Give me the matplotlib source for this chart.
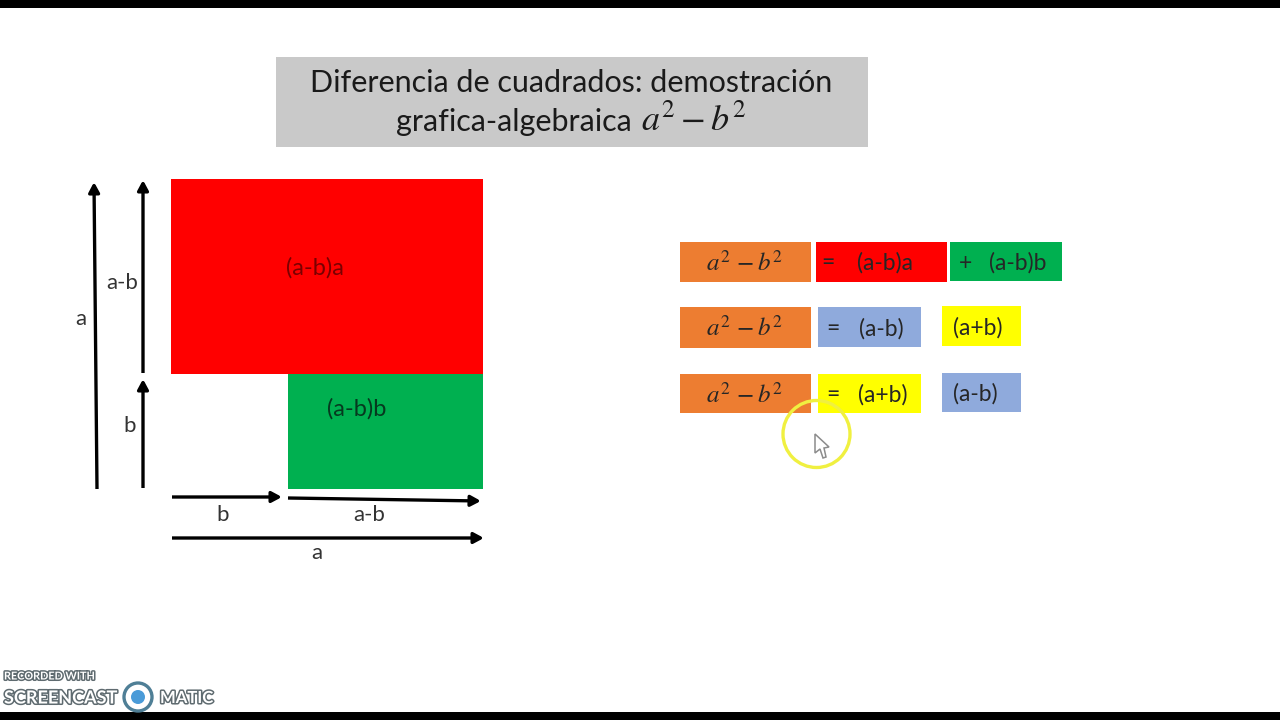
"""Diferencia de cuadrados - slide recreated in matplotlib (pixel coordinates)."""
import matplotlib
matplotlib.use('Agg')
import matplotlib.pyplot as plt
import matplotlib.patches as mpatches
import matplotlib.patheffects as pe

plt.rcParams['font.family'] = ['Lato', 'DejaVu Sans']
plt.rcParams['mathtext.fontset'] = 'stix'

ORANGE = '#ED7D31'
RED = '#FF0000'
GREEN = '#00B050'
BLUE = '#8FAADC'
YELLOW = '#FFFF00'
TEXT = '#262626'

TITLE_LINE1 = 'Diferencia de cuadrados: demostración'
TITLE_LINE2 = 'grafica-algebraica'
TITLE_MATH = r'$a^2-b^2$'

# left, top, right, bottom, colour
AREAS = [(171, 179, 483, 374, RED),
         (288, 374, 483, 489, GREEN)]
AREA_LABELS = [('(a-b)a', 315, 268, '#7a0000'),
               ('(a-b)b', 357, 409, '#06391f')]

# x0, y0, x1, y1
ARROWS = [(97, 489, 94, 182),
          (143, 373, 143, 180),
          (143, 488, 143, 379),
          (172, 497, 282, 497),
          (288, 498, 481, 501),
          (172, 538, 484, 538)]
DIM_LABELS = [('a', 81, 319), ('a-b', 122, 283), ('b', 130, 426),
              ('b', 223, 515), ('a-b', 369, 515), ('a', 317, 553)]

# left, top, right, bottom, colour
BOXES = [(680, 242, 811, 282, ORANGE), (816, 242, 947, 282, RED), (950, 242, 1062, 281, GREEN),
         (680, 307, 811, 348, ORANGE), (818, 307, 921, 347, BLUE), (942, 306, 1021, 346, YELLOW),
         (680, 374, 811, 413, ORANGE), (818, 374, 921, 413, YELLOW), (942, 373, 1021, 412, BLUE)]
FORMULA_ROWS = [262, 327, 394]
BOX_TEXTS = [('=', 828, 263), ('(a-b)a', 885, 263), ('+', 965, 263), ('(a-b)b', 1018, 263),
             ('=', 833, 329), ('(a-b)', 881, 329), ('(a+b)', 978, 328),
             ('=', 833, 395), ('(a+b)', 883, 395), ('(a-b)', 975, 394)]

CURSOR_X = [815, 815, 820, 823, 826, 824, 829]
CURSOR_Y = [434, 453, 449, 458, 457, 448, 447]

fig = plt.figure(figsize=(12.8, 7.2), dpi=100)
ax = fig.add_axes([0, 0, 1, 1])
ax.set_xlim(0, 1280)
ax.set_ylim(720, 0)
ax.axis('off')

# video letterbox
ax.add_patch(mpatches.Rectangle((0, 0), 1280, 8, fc='black', ec='none'))
ax.add_patch(mpatches.Rectangle((0, 712), 1280, 8, fc='black', ec='none'))

# title
ax.add_patch(mpatches.Rectangle((276, 57), 592, 90, fc='#C9C9C9', ec='none'))
ax.text(571, 83, TITLE_LINE1, ha='center', va='center', fontsize=22, color='#1a1a1a')
ax.text(396, 122, TITLE_LINE2, ha='left', va='center', fontsize=22, color='#1a1a1a')
ax.text(694, 120, TITLE_MATH, ha='center', va='center', fontsize=26, color='#1a1a1a')

# areas
for x0, y0, x1, y1, col in AREAS:
    ax.add_patch(mpatches.Rectangle((x0, y0), x1 - x0, y1 - y0, fc=col, ec='none'))
for label, x, y, col in AREA_LABELS:
    ax.text(x, y, label, ha='center', va='center', fontsize=17, color=col)

# dimension arrows
for x0, y0, x1, y1 in ARROWS:
    ax.annotate('', xy=(x1, y1), xytext=(x0, y0),
                arrowprops=dict(arrowstyle='-|>,head_length=0.6,head_width=0.32',
                                lw=2.4, color='black', shrinkA=0, shrinkB=0,
                                capstyle='butt'))
for label, x, y in DIM_LABELS:
    ax.text(x, y, label, ha='center', va='center', fontsize=16, color='#333333')

# formula boxes
for x0, y0, x1, y1, col in BOXES:
    ax.add_patch(mpatches.Rectangle((x0, y0), x1 - x0, y1 - y0, fc=col, ec='none'))
for y in FORMULA_ROWS:
    ax.text(745, y, r'$a^2\,-b^2$', ha='center', va='center', fontsize=18, color=TEXT)
for label, x, y in BOX_TEXTS:
    ax.text(x, y, label, ha='center', va='center', fontsize=16.5, color=TEXT)

# mouse highlight
ax.add_patch(mpatches.Circle((816.5, 434), 33.5, fc='none', ec='#F0F040', lw=2.4))
ax.add_patch(mpatches.Polygon(list(zip(CURSOR_X, CURSOR_Y)), closed=True,
                              fc='white', ec='#8c8c8c', lw=1.1))

# recorder watermark
halo = [pe.withStroke(linewidth=2.2, foreground='#5f6b70')]
ax.text(4, 676, 'RECORDED WITH', ha='left', va='center', fontsize=7.8,
        fontweight='bold', color='white', path_effects=halo)
ax.text(4, 698, 'SCREENCAST', ha='left', va='center', fontsize=13,
        fontweight='bold', color='white', path_effects=halo)
ax.text(160, 698, 'MATIC', ha='left', va='center', fontsize=12,
        fontweight='bold', color='white', path_effects=halo)
ax.add_patch(mpatches.Circle((138, 697), 14, fc='white', ec='#4f7f96', lw=2.4))
ax.add_patch(mpatches.Circle((138, 697), 7, fc='#4A9BD8', ec='none'))

fig.savefig('out.png', dpi=100)
